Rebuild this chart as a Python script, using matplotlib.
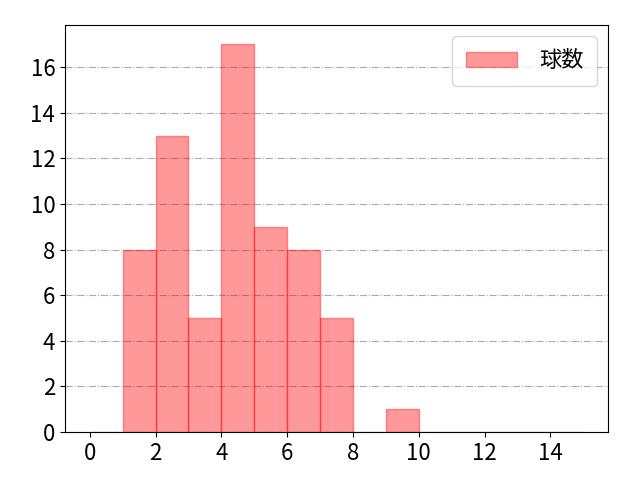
import numpy as np
import matplotlib
matplotlib.use("Agg")
import matplotlib.pyplot as plt

plt.rcParams['font.family'] = ['Noto Sans CJK JP', 'DejaVu Sans']
plt.rcParams['font.size'] = 16

bin_edges = np.arange(0, 16)
counts = [0, 8, 13, 5, 17, 9, 8, 5, 0, 1, 0, 0, 0, 0, 0]
label = "球数"

fig, ax = plt.subplots(figsize=(6.4, 4.8), dpi=100)
fig.subplots_adjust(left=65/640, right=608/640, bottom=1-432/480, top=1-25/480)
ax.hist(bin_edges[:-1], bins=bin_edges, weights=counts,
        color='red', alpha=0.4, edgecolor='red', linewidth=1, label=label)
ax.grid(axis='y', linestyle='-.', color='#aaaaaa', linewidth=0.8)
ax.set_axisbelow(True)
ax.set_xticks(np.arange(0, 16, 2))
ax.legend(loc='upper right', borderpad=0.6, handlelength=2.3, handletextpad=1.0)
fig.savefig("out.png")
